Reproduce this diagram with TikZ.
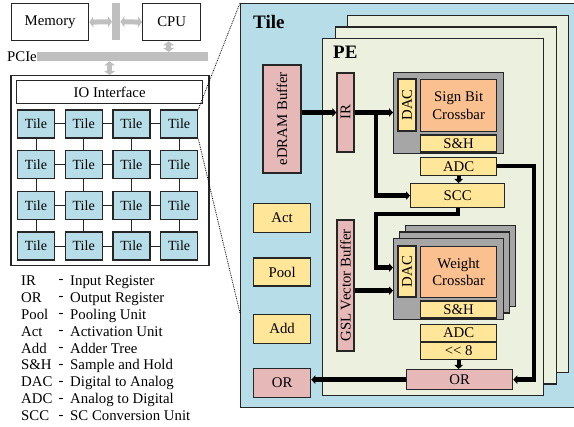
\documentclass[tikz,border=0pt]{standalone}
\usepackage{fontspec}
\setmainfont{Liberation Serif}
\usetikzlibrary{positioning}
\usetikzlibrary{arrows.meta}
\usetikzlibrary{calc}

\definecolor{tileblue}{HTML}{B7DEE8}
\definecolor{pegreen}{HTML}{EBF1DE}
\definecolor{regpink}{HTML}{E6B9B8}
\definecolor{unityellow}{HTML}{FFE699}
\definecolor{xbarorange}{HTML}{FAC090}
\definecolor{xbargray}{HTML}{A6A6A6}
\definecolor{busgray}{HTML}{BFBFBF}
\definecolor{edge}{HTML}{262626}

\tikzset{
  blk/.style={draw=edge, line width=1.3pt, inner sep=0pt, anchor=north west},
  regblk/.style={blk, fill=regpink},
  unitblk/.style={blk, fill=unityellow},
  xbarblk/.style={blk, fill=xbarorange, align=center},
  graybox/.style={blk, fill=xbargray, minimum width=110pt, minimum height=81pt},
  pestack/.style={blk, fill=pegreen, minimum width=221pt, minimum height=357pt},
  gridtile/.style={blk, fill=tileblue, anchor=center, minimum width=37pt, minimum height=28pt,
    font=\fontsize{14}{16}\selectfont},
  busbar/.style={fill=busgray, anchor=north west, inner sep=0pt},
  bus/.style={busgray, line width=5pt, {Triangle[width=11pt,length=4pt]}-{Triangle[width=11pt,length=4pt]}},
  wire/.style={line width=4.3pt, -{Triangle[width=8.5pt,length=4pt]}},
  link/.style={draw=edge, line width=1pt},
  zoomline/.style={densely dotted, line width=0.8pt},
  title/.style={font=\fontsize{19}{22}\selectfont\bfseries, anchor=west, inner sep=0pt},
}

\begin{document}
\begin{tikzpicture}[x=1pt, y=-1pt, font=\fontsize{14.8}{17.5}\selectfont]
  \useasboundingbox (0,0) rectangle (574,427);

  % host, bus and PCIe
  \node[blk, minimum width=77pt, minimum height=37pt] (mem) at (11,3) {Memory};
  \node[blk, minimum width=58pt, minimum height=37pt] (cpu) at (142,3) {CPU};
  \node[busbar, minimum width=8pt, minimum height=37pt] (sysbus) at (112,3) {};
  \node[busbar, minimum width=171pt, minimum height=9pt] (pcie) at (37,52) {};
  \node[anchor=east, inner sep=0pt] (pcielbl) at (pcie.west) {PCIe};

  % accelerator chip
  \node[blk, line width=1.5pt, minimum width=198pt, minimum height=190pt] (accel) at (10,75) {};
  \node[blk, minimum width=186pt, minimum height=23pt] (io) at (16,80) {IO Interface};

  \draw[bus] (mem.east) -- (sysbus.west);
  \draw[bus] (sysbus.east) -- (cpu.west);
  \draw[bus] ([xshift=-3pt]cpu.south) -- ([xshift=-3pt]cpu.south |- pcie.north);
  \draw[bus] (io.north |- pcie.south) -- (io.north |- accel.north);

  \foreach \r in {0,...,3}
    \foreach \c in {0,...,3}
      \node[gridtile] (t\r\c) at ({36+47.7*\c},{124+40.7*\r}) {Tile};
  \foreach \r in {0,...,3}
    \foreach \c/\n in {0/1,1/2,2/3}
      \draw[link] (t\r\c.east) -- (t\r\n.west);
  \foreach \r/\s in {0/1,1/2,2/3}
    \foreach \c in {0,...,3}
      \draw[link] (t\r\c.south) -- (t\s\c.north);

  % legend
  \foreach \ab/\txt [count=\i from 0] in {IR/Input Register, OR/Output Register,
      Pool/Pooling Unit, Act/Activation Unit, Add/Adder Tree, S\&H/Sample and Hold,
      DAC/Digital to Analog, ADC/Analog to Digital, SCC/SC Conversion Unit} {
    \node[anchor=base west, inner sep=0pt] (ab\i) at (21,{285.5+16.9*\i}) {\ab};
    \node[anchor=base, inner sep=0pt] (dash\i) at (61,{284+16.9*\i}) {-};
    \node[anchor=base west, inner sep=0pt] (desc\i) at (70,{285.5+16.9*\i}) {\txt};
  }

  % tile
  \node[blk, fill=tileblue, minimum width=336pt, minimum height=404pt] (tile) at (240,3) {};
  \node[title] (tilelbl) at (253,22) {Tile};
  \coordinate (zoomend) at (240,313);
  \draw[zoomline] (t03.north east) -- (tile.north west);
  \draw[zoomline] (t03.south east) -- (zoomend);

  \node[regblk, rotate=90, anchor=center, minimum width=108pt, minimum height=38pt] (edram) at (282,119) {eDRAM Buffer};
  \node[unitblk, minimum width=57pt, minimum height=29pt] (act) at (253,203) {Act};
  \node[unitblk, minimum width=57pt, minimum height=28pt, below=24pt of act.south west, anchor=north west] (pool) {Pool};
  \node[unitblk, minimum width=57pt, minimum height=29pt, below=27pt of pool.south west, anchor=north west] (add) {Add};
  \node[regblk, minimum width=57pt, minimum height=29pt, below=24pt of add.south west, anchor=north west] (tor) {OR};

  % PE
  \foreach \k in {2,1,0}
    \node[pestack] (pe\k) at ({322+12.5*\k},{38-11.5*\k}) {};
  \node[title] (pelbl) at (333,52) {PE};

  \node[regblk, rotate=90, anchor=center, minimum width=79pt, minimum height=17pt] (ir) at (345.5,112.5) {IR};
  \node[regblk, rotate=90, anchor=center, minimum width=131pt, minimum height=17pt] (gsl) at (345.5,285.5) {GSL Vector Buffer};

  % sign bit crossbar
  \node[graybox] (sgray) at (393,72) {};
  \node[unitblk, rotate=90, anchor=center, minimum width=52pt, minimum height=18pt] (sdac) at (407,105) {DAC};
  \node[xbarblk, minimum width=76pt, minimum height=52pt] (sxbar) at (420,79) {Sign Bit\\Crossbar};
  \node[unitblk, minimum width=76pt, minimum height=17pt, below=2pt of sxbar.south west, anchor=north west] (ssh) {S\&H};
  \node[unitblk, minimum width=76pt, minimum height=18pt, below=4pt of ssh.south west, anchor=north west] (sadc) {ADC};
  \node[unitblk, minimum width=94pt, minimum height=24pt] (scc) at (410,183) {SCC};

  % weight crossbars
  \foreach \k in {2,1,0}
    \node[graybox] (wgray\k) at ({393+6*\k},{238-6.5*\k}) {};
  \node[unitblk, rotate=90, anchor=center, minimum width=51pt, minimum height=18pt] (wdac) at (407,271.5) {DAC};
  \node[xbarblk, minimum width=76pt, minimum height=51pt] (wxbar) at (420,246) {Weight\\Crossbar};
  \node[unitblk, minimum width=76pt, minimum height=17pt, below=2pt of wxbar.south west, anchor=north west] (wsh) {S\&H};
  \node[unitblk, minimum width=76pt, minimum height=17pt, below=5pt of wsh.south west, anchor=north west] (wadc) {ADC};
  \node[unitblk, minimum width=76pt, minimum height=17pt, below=0pt of wadc.south west, anchor=north west] (wshift) {<{}< 8};
  \node[regblk, minimum width=106pt, minimum height=20pt] (peor) at (406,369) {OR};

  % data paths
  \coordinate (tap) at ($(ir.south)!0.55!(ir.south -| sgray.west)$);
  \coordinate (win1) at ([yshift=11.5pt]wgray0.west);
  \coordinate (win2) at ([yshift=-11.5pt]wgray0.west);
  \coordinate (ret) at ($(sgray.east)+(30,0)$);
  \draw[wire] (edram.south |- ir.center) -- (ir.north);
  \draw[wire] (ir.south) -- (ir.south -| sgray.west);
  \draw[wire] (tap) |- (scc.west);
  \draw[wire] (sadc.south) -- (sadc.south |- scc.north);
  \draw[wire] (scc.south) -- ++(0,6) -| (tap |- win1) -- (win1);
  \draw[wire] (gsl.south |- win2) -- (win2);
  \draw[wire] (sadc.east) -| (ret |- peor.east) -- (peor.east);
  \draw[wire] (wshift.south) -- (wshift.south |- peor.north);
  \draw[wire] (peor.west) -- (peor.west -| tor.east);
\end{tikzpicture}
\end{document}
